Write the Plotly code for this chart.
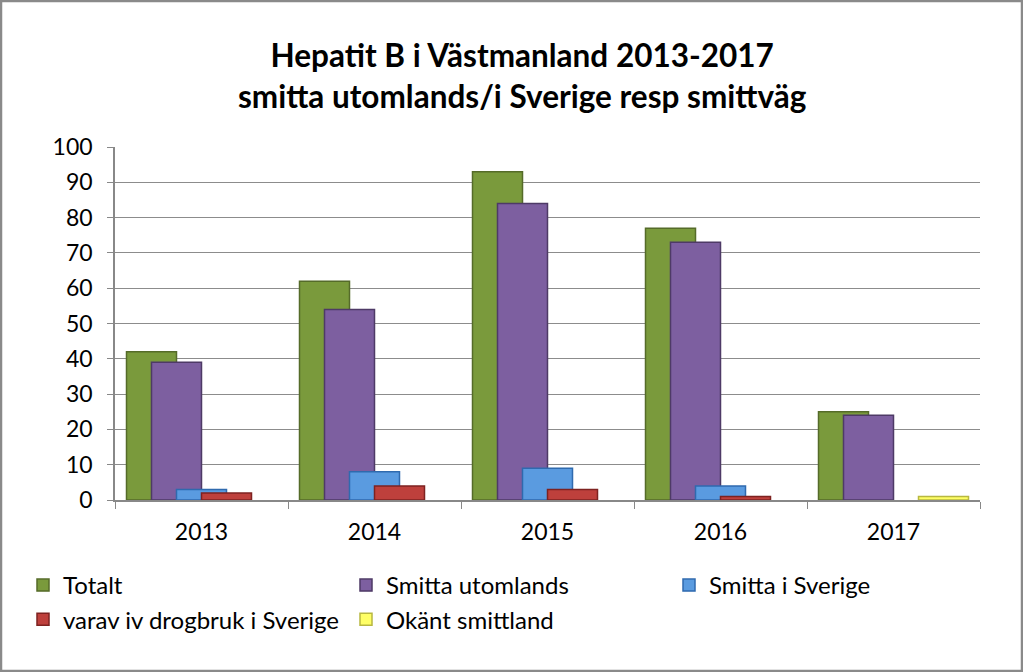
import plotly.graph_objects as go

years = ["2013", "2014", "2015", "2016", "2017"]
totalt = [42, 62, 93, 77, 25]
utomlands = [39, 54, 84, 73, 24]
sverige = [3, 8, 9, 4, 0]
drogbruk = [2, 4, 3, 1, 0]
okant = [0, 0, 0, 0, 1]

series = [
    ("Totalt", totalt, "#7A9A3C", "#556B29"),
    ("Smitta utomlands", utomlands, "#7D5FA0", "#4E3A66"),
    ("Smitta i Sverige", sverige, "#5A9BE0", "#2F6AAE"),
    ("varav iv drogbruk i Sverige", drogbruk, "#BE403C", "#7E2220"),
    ("Okänt smittland", okant, "#FFFF66", "#B8B840"),
]

W, H = 1023, 672
ML, MR, MT, MB = 115, 43, 147, 172
PW, PH = W - ML - MR, H - MT - MB
cat_px = PW / len(years)
bar_w = 50 / cat_px
step = 25 / cat_px
start = -75 / cat_px

fig = go.Figure()
for i, (name, vals, col, lcol) in enumerate(series):
    fig.add_trace(go.Bar(
        x=years, y=[v if v != 0 else None for v in vals], name=name,
        offset=start + i * step, width=bar_w,
        marker=dict(color=col, line=dict(color=lcol, width=1.5)),
    ))

font = "Lato, 'Open Sans', sans-serif"
fig.update_layout(
    width=W, height=H,
    margin=dict(l=ML, r=MR, t=MT, b=MB, pad=0),
    barmode="overlay",
    paper_bgcolor="white", plot_bgcolor="white",
    font=dict(family=font, color="black", size=23),
    showlegend=True,
    legend=dict(
        orientation="h", x=(23 - ML) / PW, xanchor="left",
        y=(500 - 563) / PH, yanchor="top",
        font=dict(size=24, family=font),
        entrywidth=278, entrywidthmode="pixels",
        traceorder="normal", itemclick=False,
    ),
    xaxis=dict(
        type="category", tickson="boundaries", ticks="outside", ticklen=7,
        tickcolor="#888888", showline=True, linecolor="#888888", linewidth=1.5,
        tickfont=dict(size=23), showgrid=False, range=[-0.5, 4.5],
        ticklabelstandoff=11,
    ),
    yaxis=dict(
        range=[0, 100], dtick=10, ticks="outside", ticklen=6, tickcolor="#888888",
        showline=True, linecolor="#888888", linewidth=1.5,
        showgrid=True, gridcolor="#8C8C8C", gridwidth=1.3, zeroline=False,
        tickfont=dict(size=23), ticklabelstandoff=10,
    ),
    annotations=[dict(
        text="<b>Hepatit B i Västmanland 2013-2017<br>smitta utomlands/i Sverige resp smittväg</b>",
        xref="paper", yref="paper", x=(522 - ML) / PW, y=(500 - 76) / PH,
        xanchor="center", yanchor="middle", showarrow=False,
        font=dict(size=31.5, family=font, color="black"),
    )],
    shapes=[dict(
        type="rect", xref="paper", yref="paper",
        x0=(1 - ML) / PW, x1=(W - 1 - ML) / PW,
        y0=(500 - (H - 1)) / PH, y1=(500 - 1) / PH,
        line=dict(color="#8A8A8A", width=2.5), layer="below",
    )],
)

fig.write_html(
    "out.html",
    config={"displayModeBar": False},
    post_script="document.body.style.margin='0';document.body.style.overflow='hidden';",
)
